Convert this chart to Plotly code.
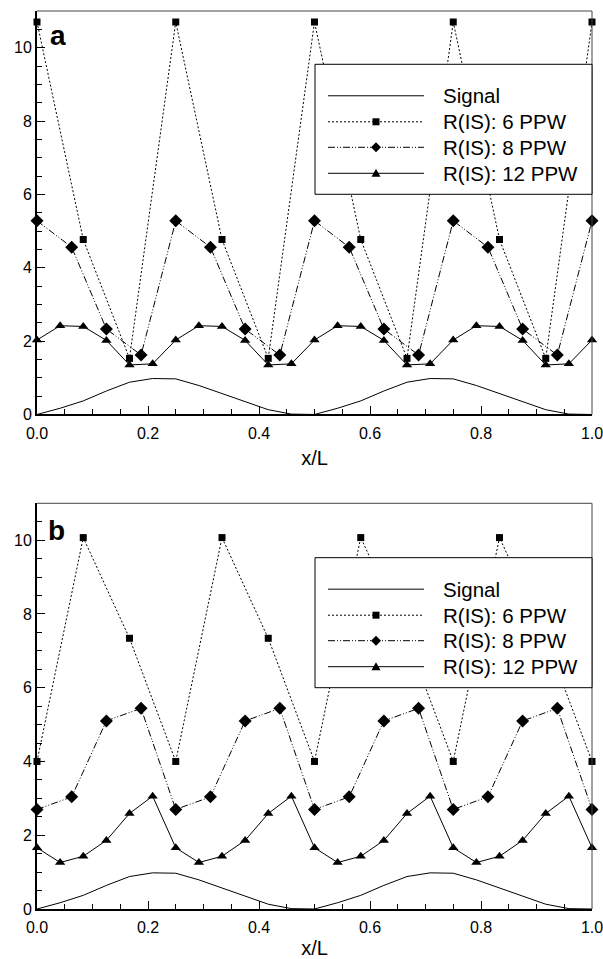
import plotly.graph_objects as go

# ---------------- data ----------------
x6 = [0, 1/12, 2/12, 3/12, 4/12, 5/12, 6/12, 7/12, 8/12, 9/12, 10/12, 11/12, 1]
x8 = [0, 1/16, 2/16, 3/16, 4/16, 5/16, 6/16, 7/16, 8/16, 9/16, 10/16, 11/16, 12/16,
      13/16, 14/16, 15/16, 1]
x12 = [k / 24 for k in range(25)]
xsig = [k / 24 for k in range(25)]

signal = [0.0, 0.17, 0.37, 0.64, 0.88, 0.98, 0.97, 0.79, 0.57, 0.34, 0.13, 0.01,
          0.0, 0.17, 0.37, 0.64, 0.88, 0.98, 0.97, 0.79, 0.57, 0.34, 0.13, 0.01, 0.0]

# panel a
a6 = [10.7, 4.77, 1.53, 10.7, 4.77, 1.53, 10.7, 4.77, 1.53, 10.7, 4.77, 1.53, 10.7]
a8 = [5.28, 4.56, 2.33, 1.62, 5.28, 4.56, 2.33, 1.62, 5.28, 4.56, 2.33, 1.62,
      5.28, 4.56, 2.33, 1.62, 5.28]
a12 = [2.03, 2.42, 2.40, 2.02, 1.35, 1.38, 2.03, 2.42, 2.40, 2.02, 1.35, 1.38,
       2.03, 2.42, 2.40, 2.02, 1.35, 1.38, 2.03, 2.42, 2.40, 2.02, 1.35, 1.38, 2.03]

# panel b
b6 = [4.0, 10.07, 7.34, 4.0, 10.07, 7.34, 4.0, 10.07, 7.34, 4.0, 10.07, 7.34, 4.0]
b8 = [2.70, 3.04, 5.10, 5.44, 2.70, 3.04, 5.10, 5.44, 2.70, 3.04, 5.10, 5.44,
      2.70, 3.04, 5.10, 5.44, 2.70]
b12 = [1.66, 1.26, 1.43, 1.86, 2.59, 3.06, 1.66, 1.26, 1.43, 1.86, 2.59, 3.06,
       1.66, 1.26, 1.43, 1.86, 2.59, 3.06, 1.66, 1.26, 1.43, 1.86, 2.59, 3.06, 1.66]

names = ["Signal", "R(IS): 6 PPW", "R(IS): 8 PPW", "R(IS): 12 PPW"]
xtick_vals = [0, 0.2, 0.4, 0.6, 0.8, 1.0]
xtick_text = ["0.0", "0.2", "0.4", "0.6", "0.8", "1.0"]
ytick_vals = [0, 2, 4, 6, 8, 10]

FONT = "Liberation Sans, Arial, Helvetica, sans-serif"

# styles per series
DASH = ["solid", "2px,2px", "7px,2px,1px,2px,1px,2px", "solid"]
SYMBOL = [None, "square", "diamond", "triangle-up"]
MSIZE = [0, 7, 10, 9]

fig = go.Figure()


def add_panel(xa, ya, s6, s8, s12):
    xs = [xsig, x6, x8, x12]
    ys = [signal, s6, s8, s12]
    for i in range(4):
        kw = dict(x=xs[i], y=ys[i], name=names[i], showlegend=False,
                  xaxis=xa, yaxis=ya, cliponaxis=False,
                  line=dict(color="black", width=1, dash=DASH[i]))
        if SYMBOL[i]:
            kw["mode"] = "lines+markers"
            kw["marker"] = dict(symbol=SYMBOL[i], size=MSIZE[i], color="black")
        else:
            kw["mode"] = "lines"
        fig.add_trace(go.Scatter(**kw))


add_panel("x", "y", a6, a8, a12)
add_panel("x2", "y2", b6, b8, b12)

xcommon = dict(range=[0, 1], tickvals=xtick_vals, ticktext=xtick_text,
               ticks="inside", ticklen=8, tickwidth=1, tickcolor="black",
               minor=dict(ticks="inside", ticklen=5, dtick=0.05, tickcolor="black", tickwidth=1),
               showline=True, linewidth=2, linecolor="black", mirror=False,
               showgrid=False, zeroline=False, ticklabeloverflow="allow",
               ticklabelstandoff=3, automargin=False,
               tickfont=dict(family=FONT, size=16, color="black"),
               title=dict(text="x/L", font=dict(family=FONT, size=20, color="black"), standoff=10))
ycommon = dict(range=[0, 11], tickvals=ytick_vals,
               ticks="inside", ticklen=8, tickwidth=1, tickcolor="black",
               minor=dict(ticks="inside", ticklen=5, dtick=0.5, tickcolor="black", tickwidth=1),
               showline=True, linewidth=2, linecolor="black", mirror=False,
               showgrid=False, zeroline=False, ticklabeloverflow="allow",
               automargin=False,
               tickfont=dict(family=FONT, size=16, color="black"))

fig.update_layout(
    width=603, height=959,
    margin=dict(l=37, r=11, t=11, b=50),
    paper_bgcolor="white", plot_bgcolor="white",
    showlegend=False,
    xaxis=dict(domain=[0, 1], anchor="y", **xcommon),
    yaxis=dict(domain=[0.5507, 1], anchor="x", **ycommon),
    xaxis2=dict(domain=[0, 1], anchor="y2", **xcommon),
    yaxis2=dict(domain=[0, 0.4518], anchor="x2", **ycommon),
)

# pixel geometry of the two plot areas
PL, PW = 37.0, 555.0
panels = [("x domain", "y domain", 11.0, 414.5), ("x2 domain", "y2 domain", 503.3, 909.0)]

# thin gray frame on top and right sides
for xr, yr, _, _ in panels:
    fig.add_shape(type="line", xref=xr, yref=yr, x0=0, x1=1, y0=1, y1=1,
                  line=dict(color="#444444", width=1))
    fig.add_shape(type="line", xref=xr, yref=yr, x0=1, x1=1, y0=0, y1=1,
                  line=dict(color="#444444", width=1))

# ---------------- custom legend (long line samples as in the original) ----------------
MARKER_PATH = {
    "square": "M-3.5,-3.5 L3.5,-3.5 L3.5,3.5 L-3.5,3.5 Z",
    "diamond": "M0,-5 L5,0 L0,5 L-5,0 Z",
    "triangle-up": "M-4.5,-3.5 L4.5,-3.5 L0,4.5 Z",
}
box_tops = [64.3, 557.7]
row_off = [31.5, 57.5, 83.0, 109.0]
for (xr, yr, top, bot), btop in zip(panels, box_tops):
    H = bot - top
    fx = lambda px: (px - PL) / PW
    fy = lambda py: (bot - py) / H
    fig.add_shape(type="rect", xref=xr, yref=yr, layer="above",
                  x0=fx(315), x1=fx(592), y0=fy(btop), y1=fy(btop + 130),
                  fillcolor="white", line=dict(color="black", width=1))
    for i in range(4):
        ry = btop + row_off[i]
        fig.add_shape(type="line", xref=xr, yref=yr, layer="above",
                      x0=fx(328), x1=fx(424), y0=fy(ry), y1=fy(ry),
                      line=dict(color="black", width=1, dash=DASH[i]))
        if SYMBOL[i]:
            fig.add_shape(type="path", xref=xr, yref=yr, layer="above",
                          xsizemode="pixel", ysizemode="pixel",
                          xanchor=fx(376), yanchor=fy(ry),
                          path=MARKER_PATH[SYMBOL[i]],
                          fillcolor="black", line=dict(color="black", width=0))
        fig.add_annotation(text=names[i], xref=xr, yref=yr, x=fx(441), y=fy(ry),
                           xanchor="left", yanchor="middle", showarrow=False,
                           font=dict(family=FONT, size=20.5, color="black"))

fig.add_annotation(text="<b>a</b>", xref="x domain", yref="y domain", x=0.037, y=0.939,
                   xanchor="center", yanchor="middle", showarrow=False,
                   font=dict(family=FONT, size=28, color="black"))
fig.add_annotation(text="<b>b</b>", xref="x2 domain", yref="y2 domain", x=0.036, y=0.932,
                   xanchor="center", yanchor="middle", showarrow=False,
                   font=dict(family=FONT, size=28, color="black"))

fig.write_html("out.html")
